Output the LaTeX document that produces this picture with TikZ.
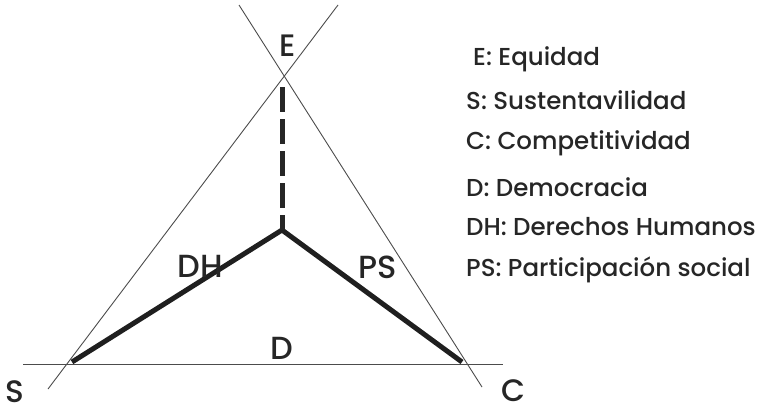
\documentclass[tikz,border=0pt]{standalone}
\usepackage{fontspec}
\setmainfont{Poppins}[UprightFont={* Medium}]
\begin{document}
\begin{tikzpicture}[x=1pt,y=-1pt,
  thinline/.style={draw=black!70,line width=0.9pt},
  thickline/.style={draw=black!88,line width=5pt,line join=miter},
  dashline/.style={draw=black!85,line width=5pt,dash pattern=on 25pt off 7pt},
  bigtxt/.style={font=\fontsize{31}{34}\selectfont,text=black!85,inner sep=0pt},
  midtxt/.style={font=\fontsize{32}{36}\selectfont,text=black!85,inner sep=0pt},
  legtxt/.style={font=\fontsize{24.5}{28}\selectfont,text=black!85,inner sep=0pt,anchor=west}]
\useasboundingbox (0,0) rectangle (762,413);
% geometry
\coordinate (a1) at (239,5);
\coordinate (a2) at (482,387);
\coordinate (b1) at (338,5);
\coordinate (b2) at (48,389);
\coordinate (l1) at (23,364);
\coordinate (l2) at (503,364);
\coordinate (s) at (72,362);
\coordinate (m) at (282,230);
\coordinate (c) at (462,362);
\coordinate (top) at (282,87);
% thin lines
\draw[thinline] (a1) -- (a2);
\draw[thinline] (b1) -- (b2);
\draw[thinline] (l1) -- (l2);
% thick lines
\draw[thickline] (s) -- (m) -- (c);
\draw[dashline] (top) -- (m);
% labels
\node[bigtxt] (E) at (288,46) {E};
\node[bigtxt] (S) at (15,392) {S};
\node[bigtxt] (C) at (513,391) {C};
\node[midtxt] (D) at (282,348) {D};
\node[midtxt] (DH) at (200,266) {DH};
\node[midtxt] (PS) at (378,267) {PS};
% legend
\node[legtxt] (l1t) at (473,59) {E: Equidad};
\node[legtxt] (l2t) at (466,100) {S: Sustentavilidad};
\node[legtxt] (l3t) at (466,143) {C: Competitividad};
\node[legtxt] (l4t) at (466,187) {D: Democracia};
\node[legtxt] (l5t) at (466,227) {DH: Derechos Humanos};
\node[legtxt] (l6t) at (466,270) {PS: Participación social};
\end{tikzpicture}
\end{document}
